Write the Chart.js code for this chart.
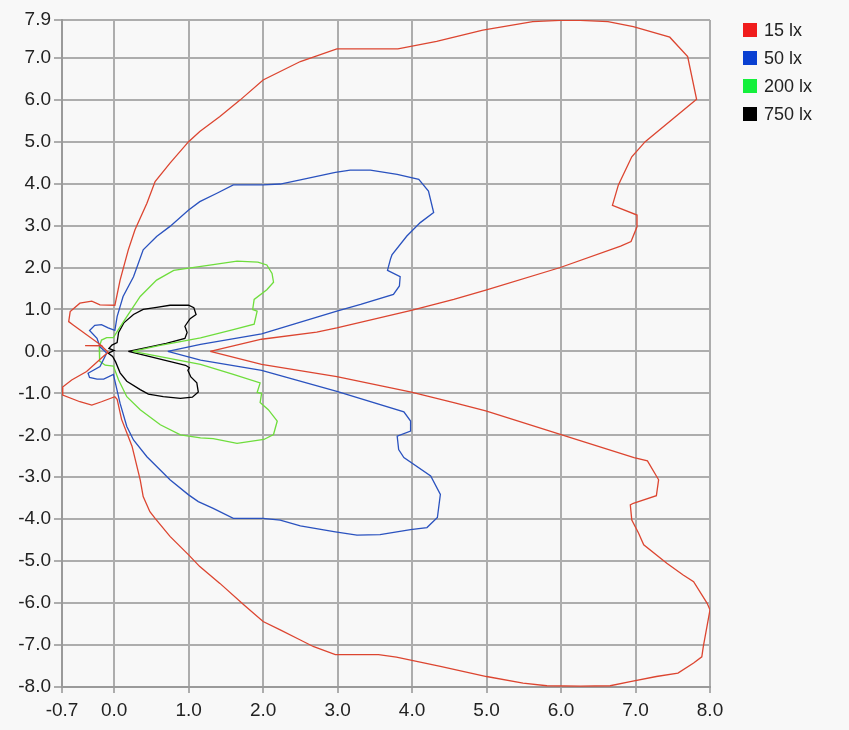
<!DOCTYPE html>
<html>
<head>
<meta charset="utf-8">
<script src="https://cdn.jsdelivr.net/npm/chart.js@4"></script>
<style>
    html, body { margin: 0; padding: 0; background: #f8f8f8; }
    #wrap { width: 849px; height: 730px; }
</style>
</head>
<body>
<div id="wrap"><canvas id="isoluxChart" width="849" height="730"></canvas></div>
<script>
// Isolinhas (x, y em metros)
const seriesLabels = ['15 lx', '50 lx', '200 lx', '750 lx'];
const lineColors = ['#dc4530', '#2a52bf', '#6edd3c', '#000000'];
const legendColors = ['#f01c1c', '#0a40d2', '#14f03c', '#000000'];

const xTickValues = [-0.7, 0, 1, 2, 3, 4, 5, 6, 7, 8];
const yTickValues = [-8, -7, -6, -5, -4, -3, -2, -1, 0, 1, 2, 3, 4, 5, 6, 7, 7.9];

const lux15 = [
    [1.29, 0], [1.98, 0.29], [2.72, 0.46], [2.99, 0.56], [3.99, 0.98], [4.56, 1.24], [4.99, 1.46],
    [5.99, 2.0], [6.80, 2.51], [6.94, 2.62], [7.02, 2.97], [7.02, 3.25], [6.69, 3.48], [6.77, 3.97],
    [6.95, 4.64], [7.13, 5.0], [7.82, 6.01], [7.70, 7.03], [7.46, 7.49], [6.97, 7.74], [6.63, 7.86],
    [6.26, 7.89], [5.99, 7.89], [5.62, 7.86], [4.95, 7.66], [4.33, 7.39], [3.81, 7.21], [2.99, 7.21],
    [2.50, 6.91], [2.00, 6.47], [1.69, 5.99], [1.42, 5.60], [1.15, 5.24], [1.00, 5.00], [0.75, 4.49],
    [0.55, 4.05], [0.44, 3.53], [0.28, 2.90], [0.19, 2.42], [0.08, 1.70], [0.01, 1.10],
    [-0.19, 1.11], [-0.30, 1.20], [-0.46, 1.15], [-0.59, 0.95], [-0.61, 0.71], [-0.55, 0.63],
    [-0.17, 0.14], [-0.39, 0.14], [-0.17, 0.13], [-0.08, -0.02], [-0.14, -0.11], [-0.37, -0.48],
    [-0.57, -0.68], [-0.70, -0.86], [-0.69, -1.04], [-0.46, -1.20], [-0.30, -1.28], [-0.17, -1.20],
    [0.01, -1.08], [0.04, -1.14], [0.10, -1.62], [0.24, -2.26], [0.35, -3.06], [0.39, -3.46],
    [0.48, -3.82], [0.55, -3.98], [0.75, -4.41], [1.00, -4.85], [1.15, -5.13], [1.42, -5.53],
    [1.74, -6.04], [2.00, -6.44], [2.23, -6.64], [2.50, -6.88], [2.68, -7.04], [2.97, -7.23],
    [3.55, -7.23], [3.79, -7.29], [4.38, -7.51], [5.00, -7.75], [5.49, -7.91], [5.81, -7.97],
    [6.26, -7.98], [6.66, -7.97], [6.93, -7.87], [7.28, -7.75], [7.57, -7.67], [7.78, -7.43],
    [7.89, -7.28], [7.91, -7.04], [8.00, -6.16], [7.96, -6.00], [7.78, -5.49], [7.64, -5.33],
    [7.42, -5.05], [7.11, -4.61], [7.04, -4.33], [6.95, -4.02], [6.93, -3.66], [6.97, -3.62],
    [7.28, -3.44], [7.31, -3.06], [7.16, -2.61], [6.98, -2.53], [5.99, -1.98], [4.99, -1.42],
    [4.56, -1.22], [3.99, -0.97], [2.99, -0.60], [1.98, -0.31], [1.29, 0]
];

const lux50 = [
    [0.72, 0], [1.16, 0.17], [1.98, 0.42], [2.99, 0.96], [3.31, 1.12], [3.75, 1.36], [3.83, 1.56],
    [3.84, 1.78], [3.67, 1.93], [3.71, 2.20], [3.73, 2.30], [3.93, 2.75], [4.11, 3.07], [4.29, 3.31],
    [4.22, 3.82], [4.09, 4.10], [3.80, 4.22], [3.44, 4.32], [3.17, 4.32], [2.97, 4.27], [2.50, 4.09],
    [2.23, 3.99], [2.00, 3.97], [1.60, 3.97], [1.38, 3.77], [1.15, 3.57], [1.00, 3.37], [0.75, 2.98],
    [0.57, 2.74], [0.39, 2.42], [0.26, 1.78], [0.12, 1.31], [0.04, 0.83], [0.01, 0.50],
    [-0.08, 0.56], [-0.17, 0.64], [-0.26, 0.62], [-0.33, 0.50], [-0.23, 0.31], [-0.19, 0.11],
    [-0.10, -0.04], [-0.19, -0.36], [-0.35, -0.52], [-0.33, -0.62], [-0.23, -0.66], [-0.14, -0.66],
    [-0.01, -0.55], [0.08, -1.24], [0.17, -1.79], [0.26, -2.11], [0.44, -2.51], [0.75, -3.06],
    [1.00, -3.42], [1.13, -3.58], [1.33, -3.74], [1.60, -3.98], [2.00, -3.98], [2.23, -4.02],
    [2.50, -4.16], [2.97, -4.30], [3.26, -4.38], [3.57, -4.37], [3.98, -4.25], [4.20, -4.20],
    [4.34, -3.96], [4.38, -3.41], [4.25, -2.97], [3.89, -2.53], [3.82, -2.34], [3.80, -2.02],
    [3.98, -1.90], [3.98, -1.66], [3.89, -1.44], [2.99, -0.95], [1.98, -0.45], [1.16, -0.21], [0.72, 0]
];

const lux200 = [
    [0.25, 0], [0.60, 0.14], [1.16, 0.32], [1.60, 0.52], [1.88, 0.65], [1.92, 0.96], [1.86, 1.0],
    [1.88, 1.24], [2.05, 1.47], [2.14, 1.65], [2.12, 1.86], [2.05, 2.06], [1.93, 2.13], [1.65, 2.15],
    [1.33, 2.07], [0.98, 1.98], [0.80, 1.93], [0.57, 1.70], [0.35, 1.31], [0.17, 0.83], [0.05, 0.50],
    [-0.01, 0.33], [-0.10, 0.33], [-0.17, 0.27], [-0.20, 0.10], [-0.20, -0.10], [-0.19, -0.23],
    [-0.12, -0.33], [-0.01, -0.35], [0.06, -0.68], [0.17, -1.08], [0.35, -1.39], [0.62, -1.75],
    [0.89, -1.99], [1.16, -2.06], [1.33, -2.08], [1.65, -2.19], [2.01, -2.10], [2.14, -1.98],
    [2.19, -1.66], [2.07, -1.39], [1.96, -1.22], [1.98, -1.0], [1.92, -0.98], [1.96, -0.75],
    [1.60, -0.55], [1.16, -0.31], [0.60, -0.12], [0.25, 0]
];

const lux750 = [
    [0.19, 0], [0.40, 0.08], [0.70, 0.19], [0.95, 0.31], [0.98, 0.45], [0.95, 0.60], [1.02, 0.78],
    [1.10, 0.88], [1.07, 1.04], [1.00, 1.10], [0.75, 1.10], [0.57, 1.05], [0.39, 1.00], [0.26, 0.88],
    [0.13, 0.68], [0.06, 0.45], [0.04, 0.21], [-0.03, 0.15], [-0.07, 0.07], [0.0, 0.02],
    [-0.08, -0.04], [-0.02, -0.12], [0.02, -0.25], [0.08, -0.51], [0.17, -0.71], [0.35, -0.91],
    [0.46, -1.02], [0.66, -1.08], [0.89, -1.12], [1.05, -1.09], [1.13, -0.97], [1.11, -0.75],
    [1.03, -0.61], [0.99, -0.45], [1.01, -0.39], [0.96, -0.33], [0.70, -0.22], [0.40, -0.09], [0.19, 0]
];

const seriesData = [lux15, lux50, lux200, lux750];

document.addEventListener('DOMContentLoaded', function () {
    initializeIsoluxChart();
});

/**
 * Fundo cinza claro em todo o canvas
 */
const backgroundPlugin = {
    id: 'canvasBackground',
    beforeDraw: function (chart) {
        const ctx = chart.ctx;
        ctx.save();
        ctx.fillStyle = '#f8f8f8';
        ctx.fillRect(0, 0, chart.width, chart.height);
        ctx.restore();
    }
};

/**
 * Legenda simples no canto superior direito
 */
const sideLegendPlugin = {
    id: 'sideLegend',
    afterDraw: function (chart) {
        const ctx = chart.ctx;
        const left = chart.chartArea.right + 33;
        ctx.save();
        ctx.font = '18px "Liberation Sans", Arial, sans-serif';
        ctx.textBaseline = 'middle';
        chart.data.datasets.forEach(function (ds, i) {
            const cy = 30 + i * 28;
            ctx.fillStyle = legendColors[i];
            ctx.fillRect(left, cy - 7, 14, 14);
            ctx.fillStyle = '#222';
            ctx.fillText(ds.label, left + 21, cy + 1);
        });
        ctx.restore();
    }
};

function initializeIsoluxChart() {
    const chartCanvas = document.getElementById('isoluxChart');
    if (!chartCanvas) return;

    const datasets = seriesData.map(function (points, i) {
        return {
            label: seriesLabels[i],
            data: points.map(p => ({ x: p[0], y: p[1] })),
            showLine: true,
            borderColor: lineColors[i],
            backgroundColor: lineColors[i],
            borderWidth: 1.3,
            pointRadius: 0,
            tension: 0,
            fill: false
        };
    });

    const tickFont = { family: '"Liberation Sans", Arial, sans-serif', size: 19 };

    new Chart(chartCanvas, {
        type: 'scatter',
        data: { datasets: datasets },
        options: {
            responsive: false,
            animation: false,
            layout: {
                padding: { left: 0, right: 139, top: 20, bottom: 0 }
            },
            scales: {
                x: {
                    type: 'linear',
                    min: -0.7,
                    max: 8,
                    afterBuildTicks: function (scale) {
                        scale.ticks = xTickValues.map(v => ({ value: v }));
                    },
                    afterFit: function (scale) {
                        scale.height = 43;
                    },
                    ticks: {
                        color: '#222',
                        font: tickFont,
                        padding: 6,
                        maxRotation: 0,
                        autoSkip: false,
                        callback: function (value) {
                            return Number(value).toFixed(1);
                        }
                    },
                    grid: {
                        color: '#adadad',
                        lineWidth: 2,
                        tickLength: 6
                    },
                    border: { color: '#9a9a9a', width: 2 }
                },
                y: {
                    type: 'linear',
                    min: -8,
                    max: 7.9,
                    afterBuildTicks: function (scale) {
                        scale.ticks = yTickValues.map(v => ({ value: v }));
                    },
                    afterFit: function (scale) {
                        scale.width = 62;
                    },
                    ticks: {
                        color: '#222',
                        font: tickFont,
                        padding: 3,
                        autoSkip: false,
                        callback: function (value) {
                            return Number(value).toFixed(1);
                        }
                    },
                    grid: {
                        color: '#adadad',
                        lineWidth: 2,
                        tickLength: 8
                    },
                    border: { color: '#9a9a9a', width: 2 }
                }
            },
            plugins: {
                legend: { display: false },
                tooltip: { enabled: false }
            }
        },
        plugins: [backgroundPlugin, sideLegendPlugin]
    });
}
</script>
</body>
</html>
